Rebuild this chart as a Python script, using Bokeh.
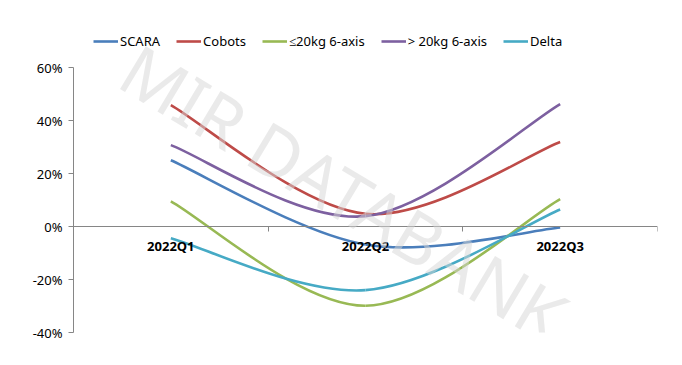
from bokeh.plotting import figure
from bokeh.models import (FixedTicker, Range1d, Legend, LegendItem, Label,
                          NumeralTickFormatter, ColumnDataSource)
from bokeh.embed import file_html
from bokeh.resources import INLINE

categories = ["2022Q1", "2022Q2", "2022Q3"]
series_names = ["SCARA", "Cobots", "\u226420kg 6-axis", "> 20kg 6-axis", "Delta"]
scara = [0.25, -0.068, -0.004]
cobots = [0.458, 0.048, 0.319]
le20 = [0.095, -0.299, 0.103]
gt20 = [0.307, 0.039, 0.462]
delta = [-0.044, -0.240, 0.064]
colors = ["#4a7ebb", "#be4b48", "#98b954", "#7d60a0", "#46aac5"]
y_ticks = [-0.4, -0.2, 0.0, 0.2, 0.4, 0.6]

FONT = "Noto Sans"

W, H = 682, 365
LEFT, RIGHT, TOP, BOTTOM = 73, 25, 10, 33
Y_MIN, Y_MAX = -0.4, 0.6
AXIS_PX = 265.0  # pixel height of the -40%..60% axis
frame_h = H - TOP - BOTTOM
y_top = Y_MIN + frame_h / AXIS_PX * (Y_MAX - Y_MIN)

p = figure(width=W, height=H, output_backend="svg", toolbar_location=None,
           x_range=Range1d(0, len(categories)), y_range=Range1d(Y_MIN, y_top),
           min_border_left=LEFT, min_border_right=RIGHT, min_border_top=TOP,
           min_border_bottom=BOTTOM)
p.outline_line_color = None
p.grid.visible = False
p.background_fill_color = "white"
p.border_fill_color = "white"

xs = [i + 0.5 for i in range(len(categories))]

def excel_smooth(x, y):
    n = len(x)
    x0, y0, x1, y1, cx0, cy0, cx1, cy1 = [], [], [], [], [], [], [], []
    for i in range(n - 1):
        ip = max(i - 1, 0)
        inx = min(i + 2, n - 1)
        x0.append(x[i]); y0.append(y[i])
        x1.append(x[i + 1]); y1.append(y[i + 1])
        cx0.append(x[i] + (x[i + 1] - x[ip]) / 6.0)
        cy0.append(y[i] + (y[i + 1] - y[ip]) / 6.0)
        cx1.append(x[i + 1] - (x[inx] - x[i]) / 6.0)
        cy1.append(y[i + 1] - (y[inx] - y[i]) / 6.0)
    return dict(x0=x0, y0=y0, x1=x1, y1=y1, cx0=cx0, cy0=cy0, cx1=cx1, cy1=cy1)

items = []
for name, vals, col in zip(series_names, [scara, cobots, le20, gt20, delta], colors):
    src = ColumnDataSource(excel_smooth(xs, vals))
    r = p.bezier(x0="x0", y0="y0", x1="x1", y1="y1", cx0="cx0", cy0="cy0",
                 cx1="cx1", cy1="cy1", source=src, line_color=col, line_width=2.6)
    items.append(LegendItem(label=name, renderers=[r]))

legend = Legend(items=items, orientation="horizontal", location=(20, 282),
                label_text_font=FONT, label_text_font_size="13px",
                label_text_color="#000000", glyph_width=25, glyph_height=16,
                label_standoff=2, spacing=16, padding=0, margin=0,
                border_line_color=None, background_fill_alpha=0)
p.add_layout(legend, "center")

# y axis
p.yaxis.bounds = (Y_MIN, Y_MAX)
p.yaxis.ticker = FixedTicker(ticks=y_ticks, minor_ticks=[])
p.yaxis.formatter = NumeralTickFormatter(format="0%")
p.yaxis.axis_line_color = "#868686"
p.yaxis.major_tick_line_color = "#868686"
p.yaxis.major_tick_out = 5
p.yaxis.major_tick_in = 0
p.yaxis.minor_tick_line_color = None
p.yaxis.major_label_text_font = FONT
p.yaxis.major_label_text_font_size = "13px"
p.yaxis.major_label_text_color = "#000000"
p.yaxis.major_label_standoff = 6

# x axis at zero
p.xaxis.fixed_location = 0
p.xaxis.ticker = FixedTicker(ticks=xs, minor_ticks=list(range(len(categories) + 1)))
p.xaxis.major_label_overrides = {x: c for x, c in zip(xs, categories)}
p.xaxis.axis_line_color = "#868686"
p.xaxis.major_tick_line_color = None
p.xaxis.major_tick_out = 0
p.xaxis.major_tick_in = 0
p.xaxis.minor_tick_line_color = "#868686"
p.xaxis.minor_tick_out = 5
p.xaxis.minor_tick_in = 0
p.xaxis.major_label_text_font = FONT
p.xaxis.major_label_text_font_style = "bold"
p.xaxis.major_label_text_font_size = "13px"
p.xaxis.major_label_text_color = "#000000"
p.xaxis.major_label_standoff = 5

wm = Label(x=1.39, y=0.13, text="MIR DATABANK", angle=-31, angle_units="deg",
           text_align="center", text_baseline="middle", text_font=FONT,
           text_font_size="70px", text_color="#d6d6d6", text_alpha=0.5,
           level="overlay")
p.add_layout(wm)

open("out.html", "w").write(file_html(p, INLINE))
